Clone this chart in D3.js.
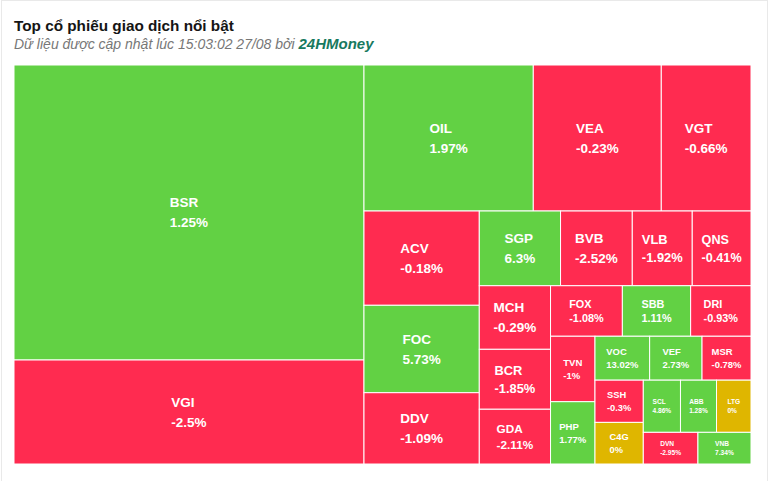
<!DOCTYPE html>
<html>
<head>
<meta charset="utf-8">
<script src="https://cdn.jsdelivr.net/npm/d3@7"></script>
<style>
  html, body { margin: 0; padding: 0; background: #fff; }
  svg { display: block; }
</style>
</head>
<body>
<svg id="chart" width="769" height="481"></svg>
<script>
// ---- data ----
const symbols = ["BSR","VGI","OIL","VEA","VGT","ACV","FOC","DDV","SGP","BVB","VLB","QNS","MCH","BCR","GDA","FOX","SBB","DRI","TVN","PHP","VOC","VEF","MSR","SSH","C4G","SCL","ABB","LTG","DVN","VNB"];
const tradeValues = [1032.5,364.0,247.2,186.9,131.0,108.7,100.8,82.2,60.7,53.6,44.8,43.9,45.3,42.7,39.0,36.3,34.5,30.5,29.1,27.7,24.0,23.0,21.5,20.4,20.1,19.4,18.8,18.0,17.3,16.8];
const changes = [1.25,-2.5,1.97,-0.23,-0.66,-0.18,5.73,-1.09,6.3,-2.52,-1.92,-0.41,-0.29,-1.85,-2.11,-1.08,1.11,-0.93,-1,1.77,13.02,2.73,-0.78,-0.3,0,4.86,1.28,0,-2.95,7.34];
const titleText = "Top cổ phiếu giao dịch nổi bật";
const subtitleText = "Dữ liệu được cập nhật lúc 15:03:02 27/08 bởi ";
const sourceText = "24HMoney";

// ---- layout ----
const FONT = "'Liberation Sans', Arial, sans-serif";
const svg = d3.select("#chart");
const margin = { left: 14, top: 65 };
const W = 737, H = 399;

// card border
svg.append("rect").attr("x", 1.5).attr("y", 0.5).attr("width", 766).attr("height", 520)
  .attr("fill", "#fff").attr("stroke", "#e9e9e9");

svg.append("text").attr("x", 14).attr("y", 31)
  .attr("font-family", FONT).attr("font-weight", "bold")
  .attr("font-size", 15.3).attr("fill", "#151515").text(titleText);

const sub = svg.append("text").attr("x", 14).attr("y", 48.5)
  .attr("font-family", FONT).attr("font-style", "italic")
  .attr("font-size", 14).attr("fill", "#777");
sub.append("tspan").text(subtitleText);
sub.append("tspan").attr("font-weight", "bold").attr("font-size", 15).attr("fill", "#17795e").text(sourceText);

// alternating low-aspect-ratio tiling (row/column direction flips after each strip)
function tileAlternating(parent, x0, y0, x1, y1) {
  const nodes = parent.children;
  const total = parent.value;
  let rx = x0, ry = y0, rw = x1 - x0, rh = y1 - y0;
  let dir = 0; // 0: strip as column at left, 1: strip as row at top
  const ar = (a, b) => Math.max(a / b, b / a);
  nodes.forEach(n => { n._a = (x1 - x0) * (y1 - y0) * n.value / total; });
  function place(items, last) {
    const s = d3.sum(items, d => d._a);
    if (dir === 0) {
      const w = last ? rw : s / rh;
      let y = ry;
      items.forEach(n => { const h = n._a / w; n.x0 = rx; n.x1 = rx + w; n.y0 = y; n.y1 = y + h; y += h; });
      rx += w; rw -= w;
    } else {
      const h = last ? rh : s / rw;
      let x = rx;
      items.forEach(n => { const w = n._a / h; n.y0 = ry; n.y1 = ry + h; n.x0 = x; n.x1 = x + w; x += w; });
      ry += h; rh -= h;
    }
    dir = 1 - dir;
  }
  let group = [];
  nodes.forEach(n => {
    if (group.length) {
      const prev = group[group.length - 1];
      const s = d3.sum(group, d => d._a);
      let oldR, newR;
      if (dir === 0) {
        const lw = s / rh, nw = (s + n._a) / rh;
        oldR = ar(lw, prev._a / lw); newR = ar(nw, prev._a / nw);
      } else {
        const lh = s / rw, nh = (s + n._a) / rw;
        oldR = ar(prev._a / lh, lh); newR = ar(prev._a / nh, nh);
      }
      if (newR > oldR) { place(group, false); group = []; }
    }
    group.push(n);
  });
  if (group.length) place(group, true);
}

const rows = symbols.map((s, i) => ({ name: s, value: tradeValues[i], change: changes[i] }));
const root = d3.hierarchy({ children: rows }).sum(d => d.value || 0);
d3.treemap().tile(tileAlternating).size([W, H]).round(false)(root);

const color = c => c > 0 ? "#62d144" : (c < 0 ? "#ff2b50" : "#dfb600");

const g = svg.append("g").attr("transform", `translate(${margin.left},${margin.top})`);
const cells = g.selectAll("g.cell").data(root.leaves()).join("g").attr("class", "cell");

cells.append("rect")
  .attr("x", d => d.x0).attr("y", d => d.y0)
  .attr("width", d => d.x1 - d.x0).attr("height", d => d.y1 - d.y0)
  .attr("fill", d => color(d.data.change))
  .attr("stroke", "#fff").attr("stroke-width", 1);

cells.each(function(d) {
  const w = d.x1 - d.x0, h = d.y1 - d.y0;
  const minDim = Math.min(w, h);
  const fs = minDim < 40 ? 6.6 : Math.max(9.3, Math.min(13.5, minDim * 0.215));
  const L = fs + 3 + Math.max(0, fs - 11) * 1.4;
  const cx = (d.x0 + d.x1) / 2, cy = (d.y0 + d.y1) / 2;
  const t = d3.select(this).append("text")
    .attr("font-family", FONT).attr("font-weight", "bold")
    .attr("font-size", fs).attr("fill", "#fff");
  const cap = 0.716 * fs;
  const t1 = t.append("tspan").attr("y", cy - L / 2 + cap / 2).text(d.data.name);
  const t2 = t.append("tspan").attr("y", cy + L / 2 + cap / 2).text(d.data.change + "%");
  const mw = Math.max(t1.node().getComputedTextLength(), t2.node().getComputedTextLength());
  t1.attr("x", cx - mw / 2); t2.attr("x", cx - mw / 2);
});
</script>
</body>
</html>
